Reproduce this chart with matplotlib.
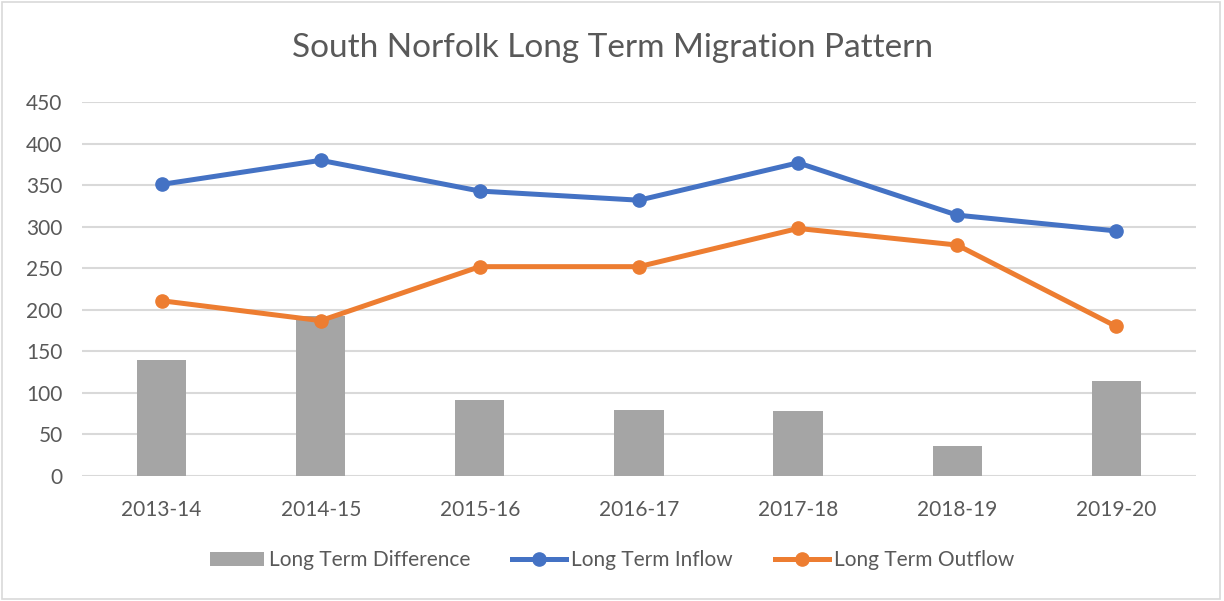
import matplotlib.pyplot as plt
import numpy as np
from matplotlib.patches import Rectangle

PNG_OUT = "out.png"

years = ["2013-14", "2014-15", "2015-16", "2016-17", "2017-18", "2018-19", "2019-20"]
inflow = [351, 380, 343, 332, 377, 314, 295]
outflow = [211, 187, 252, 252, 298, 278, 180]
difference = [140, 193, 91, 80, 78, 36, 114]

BLUE = "#4472C4"
ORANGE = "#ED7D31"
GREY = "#A5A5A5"
TEXT = "#595959"

plt.rcParams["font.family"] = ["Lato", "DejaVu Sans"]

fig = plt.figure(figsize=(12.24, 6.01), dpi=100)
ax = fig.add_axes([0.067, 0.208, 0.910, 0.622])

x = np.arange(len(years))
bars = ax.bar(x, difference, width=0.31, color=GREY, label="Long Term Difference", zorder=2)
l1, = ax.plot(x, inflow, color=BLUE, lw=3.6, marker="o", ms=9.5, label="Long Term Inflow", zorder=3)
l2, = ax.plot(x, outflow, color=ORANGE, lw=3.6, marker="o", ms=9.5, label="Long Term Outflow", zorder=3)

ax.set_xlim(-0.5, len(years) - 0.5)
ax.set_ylim(0, 450)
ax.set_yticks(range(0, 451, 50))
ax.set_xticks(x)
ax.set_xticklabels(years)
ax.grid(axis="y", color="#D9D9D9", lw=1.5, zorder=0)
ax.set_axisbelow(True)
for s in ax.spines.values():
    s.set_visible(False)
ax.tick_params(length=0, labelsize=15, colors=TEXT)
ax.tick_params(axis="x", pad=17)
ax.tick_params(axis="y", pad=14)

fig.suptitle("South Norfolk Long Term Migration Pattern", y=0.945, fontsize=24, color=TEXT)

fig.legend([bars, l1, l2], ["Long Term Difference", "Long Term Inflow", "Long Term Outflow"],
           loc="center", bbox_to_anchor=(0.5, 0.068), ncol=3, frameon=False,
           fontsize=15, labelcolor=TEXT, handlelength=2.6, columnspacing=2.0,
           handletextpad=0.25)

# chart border
fig.patches.append(Rectangle((0.002, 0.003), 0.995, 0.993, transform=fig.transFigure,
                             fill=False, edgecolor="#D9D9D9", lw=1.2))

fig.savefig(PNG_OUT, dpi=100)
plt.close(fig)
